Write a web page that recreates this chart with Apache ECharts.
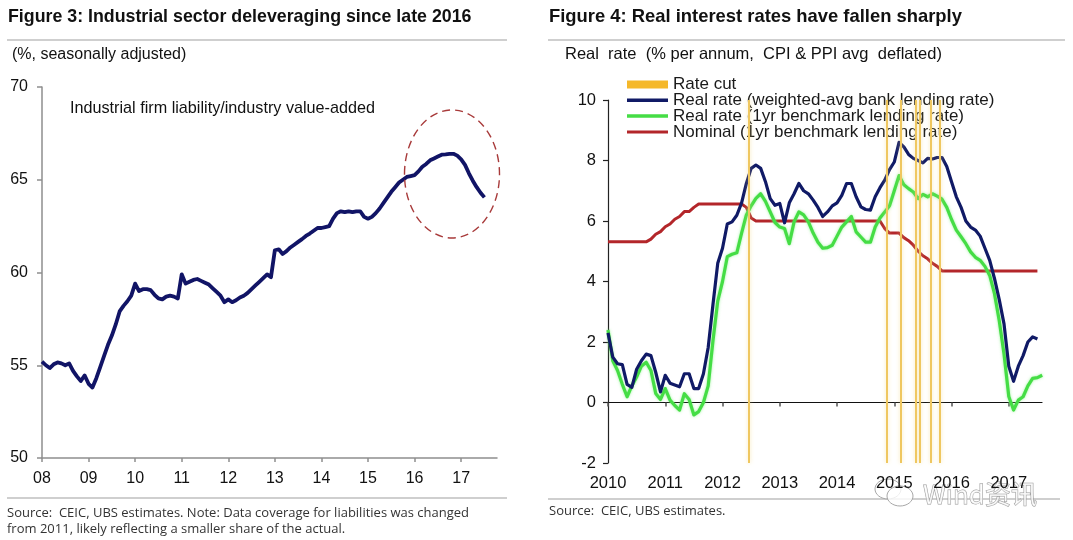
<!DOCTYPE html>
<html><head><meta charset="utf-8">
<script src="https://cdn.jsdelivr.net/npm/echarts@6/dist/echarts.min.js"></script>
<style>html,body{margin:0;padding:0;background:#fff}#c{width:1073px;height:540px}</style>
</head><body><div id="c"></div>
<script>
// ---------- Figure 3 data (monthly, Jan 2008 - Jul 2017) ----------
const leverageStartYear = 2008;
const leverageYearTicks = [2008, 2009, 2010, 2011, 2012, 2013, 2014, 2015, 2016, 2017];
const leverage = [
  55.2, 55.0, 54.85, 55.05, 55.15, 55.1, 55.0, 55.1, 54.7, 54.4, 54.15, 54.45,
  54.0, 53.8, 54.3, 54.9, 55.5, 56.1, 56.6, 57.2, 57.9, 58.2, 58.45, 58.75,
  59.4, 59.0, 59.1, 59.1, 59.05, 58.8, 58.6, 58.55, 58.7, 58.75, 58.7, 58.6,
  59.9, 59.4, 59.5, 59.6, 59.65, 59.55, 59.45, 59.35, 59.15, 58.95, 58.75, 58.4,
  58.55, 58.4, 58.5, 58.65, 58.75, 58.9, 59.1, 59.3, 59.5, 59.7, 59.9, 59.75,
  61.2, 61.25, 61.0, 61.15, 61.35, 61.5, 61.65, 61.8, 61.97, 62.1, 62.25, 62.4,
  62.4, 62.45, 62.5, 62.9, 63.2, 63.3, 63.25, 63.3, 63.25, 63.3, 63.3, 63.0,
  62.9, 63.0, 63.2, 63.45, 63.75, 64.05, 64.35, 64.6, 64.85, 65.0, 65.15, 65.2,
  65.25, 65.45, 65.7, 65.85, 66.05, 66.15, 66.25, 66.35, 66.37, 66.4, 66.4, 66.3,
  66.1, 65.8, 65.35, 64.95, 64.6, 64.3, 64.05
];

// ---------- Figure 4 data (monthly, Jan 2010 - Jul 2017) ----------
const rateStartYear = 2010;
const rateYearTicks = [2010, 2011, 2012, 2013, 2014, 2015, 2016, 2017];
const realWeighted = [
  2.3, 1.5, 1.28, 1.25, 0.6, 0.5, 1.1, 1.38, 1.6, 1.55, 1.0, 0.35,
  0.9, 0.64, 0.58, 0.52, 0.95, 0.95, 0.46, 0.46, 0.95, 1.82, 3.24, 4.6,
  5.1, 5.9, 5.97, 6.19, 6.6, 7.24, 7.74, 7.85, 7.74, 7.3, 6.74, 6.52,
  6.58, 5.94, 6.6, 6.9, 7.24, 7.0, 6.9, 6.69, 6.45, 6.15, 6.3, 6.5,
  6.6, 6.85, 7.24, 7.24, 6.8, 6.47, 6.38, 6.36, 6.8, 7.1, 7.35, 7.7,
  7.95, 8.6, 8.45, 8.2, 8.07, 8.0, 7.92, 8.07, 8.05, 8.1, 8.1, 7.8,
  7.3, 6.8, 6.45, 6.0, 5.8, 5.7, 5.5, 5.1, 4.7, 4.1, 3.4, 2.6,
  1.2, 0.7, 1.2, 1.55, 2.0, 2.17, 2.1
];
const realBenchmark = [
  2.4, 1.38, 1.06, 0.6, 0.19, 0.55, 0.84, 1.2, 1.33, 1.06, 0.3, 0.1,
  0.46, 0.08, -0.1, -0.25, 0.29, 0.1, -0.41, -0.3, 0.0, 0.55, 2.04, 3.35,
  4.0, 4.82, 4.9, 4.95, 5.6, 6.2, 6.5, 6.75, 6.9, 6.65, 6.3, 5.95,
  5.8, 5.75, 5.25, 5.97, 6.3, 6.2, 5.97, 5.6, 5.3, 5.1, 5.12, 5.2,
  5.5, 5.8, 5.97, 6.15, 5.64, 5.47, 5.3, 5.3, 5.8, 6.1, 6.3, 6.5,
  7.0, 7.5, 7.2, 7.07, 6.96, 6.74, 6.88, 6.8, 6.9, 6.82, 6.72, 6.45,
  6.05, 5.7, 5.48, 5.25, 4.98, 4.8, 4.7, 4.5, 4.2, 3.6, 2.7, 1.6,
  0.2, -0.25, 0.08, 0.19, 0.55, 0.8, 0.82, 0.9
];
const nominalRate = [
  5.31, 5.31, 5.31, 5.31, 5.31, 5.31, 5.31, 5.31, 5.31, 5.40, 5.56, 5.65,
  5.81, 5.90, 6.06, 6.15, 6.31, 6.31, 6.45, 6.56, 6.56, 6.56, 6.56, 6.56,
  6.56, 6.56, 6.56, 6.56, 6.56, 6.45, 6.1, 6.0, 6.0, 6.0, 6.0, 6.0,
  6.0, 6.0, 6.0, 6.0, 6.0, 6.0, 6.0, 6.0, 6.0, 6.0, 6.0, 6.0,
  6.0, 6.0, 6.0, 6.0, 6.0, 6.0, 6.0, 6.0, 6.0, 6.0, 5.75, 5.6,
  5.6, 5.6, 5.45, 5.35, 5.2, 5.0, 4.85, 4.75, 4.6, 4.5, 4.35, 4.35,
  4.35, 4.35, 4.35, 4.35, 4.35, 4.35, 4.35, 4.35, 4.35, 4.35, 4.35, 4.35,
  4.35, 4.35, 4.35, 4.35, 4.35, 4.35, 4.35
];
const rateCuts = [2012.46, 2014.86, 2015.12, 2015.38, 2015.45, 2015.63, 2015.80];

const seriesNames = [
  'Rate cut',
  'Real rate (weighted-avg bank lending rate)',
  'Real rate (1yr benchmark lending rate)',
  'Nominal (1yr benchmark lending rate)'
];

const toPairs = (arr, start) => arr.map((v, i) => [start + i / 12, v]);

const FONT = '"Liberation Sans", Arial, sans-serif';
const LIGHT = '"Open Sans", "Liberation Sans", sans-serif';

const chart = echarts.init(document.getElementById('c'), null, {renderer: 'canvas'});

const option = {
  backgroundColor: '#ffffff',
  animation: false,
  textStyle: {fontFamily: FONT},
  grid: [
    {left: 42, top: 87, width: 455, height: 371},
    {left: 608, top: 100, width: 434, height: 363}
  ],
  legend: {
    left: 627, top: 76, orient: 'vertical', itemWidth: 41, itemHeight: 14, itemGap: -1.2, padding: 0,
    selectedMode: false,
    textStyle: {fontFamily: FONT, fontSize: 17, lineHeight: 14, color: '#1a1a1a'},
    itemStyle: {borderWidth: 0},
    data: [
      {name: seriesNames[0], icon: 'path://M0,0H41V8H0Z'},
      {name: seriesNames[1], icon: 'path://M0,0H41V3.5H0Z'},
      {name: seriesNames[2], icon: 'path://M0,0H41V3.5H0Z'},
      {name: seriesNames[3], icon: 'path://M0,0H41V3H0Z'}
    ]
  },
  xAxis: [
    {
      gridIndex: 0, type: 'value', min: 2008, max: 2017.77,
      splitLine: {show: false},
      axisLine: {show: true, lineStyle: {color: '#8e8e8e', width: 1.5}},
      axisTick: {show: true, length: 4, customValues: leverageYearTicks, lineStyle: {color: '#8e8e8e', width: 1.5}},
      axisLabel: {customValues: leverageYearTicks, formatter: v => String(Math.round(v)).slice(2),
        fontSize: 16, color: '#111', margin: 13, fontFamily: FONT}
    },
    {
      gridIndex: 1, type: 'value', min: 2010, max: 2017.58,
      splitLine: {show: false},
      axisLine: {show: true, onZero: true, lineStyle: {color: '#111', width: 1.2}},
      axisTick: {show: true, length: 4, customValues: rateYearTicks, lineStyle: {color: '#555', width: 1.5}},
      axisLabel: {show: false}
    },
    {
      gridIndex: 1, type: 'value', min: 2010, max: 2017.58, position: 'bottom',
      splitLine: {show: false},
      axisLine: {show: false, onZero: false},
      axisTick: {show: false},
      axisLabel: {customValues: rateYearTicks, formatter: v => String(Math.round(v)),
        fontSize: 16.5, color: '#111', margin: 12, fontFamily: FONT}
    }
  ],
  yAxis: [
    {
      gridIndex: 0, type: 'value', min: 50, max: 70, interval: 5,
      splitLine: {show: false},
      axisLine: {show: true, lineStyle: {color: '#8e8e8e', width: 1.5}},
      axisTick: {show: true, length: 5, lineStyle: {color: '#8e8e8e', width: 1.5}},
      axisLabel: {fontSize: 16, color: '#111', margin: 14, fontFamily: FONT}
    },
    {
      gridIndex: 1, type: 'value', min: -2, max: 10, interval: 2,
      splitLine: {show: false},
      axisLine: {show: true, lineStyle: {color: '#222', width: 1.2}},
      axisTick: {show: true, length: 5, lineStyle: {color: '#222', width: 1.2}},
      axisLabel: {fontSize: 16.5, color: '#111', margin: 12, fontFamily: FONT}
    }
  ],
  series: [
    {
      name: 'Industrial firm liability/industry value-added',
      type: 'line', xAxisIndex: 0, yAxisIndex: 0, symbol: 'none', silent: true,
      data: toPairs(leverage, leverageStartYear),
      lineStyle: {color: '#111466', width: 3.8, join: 'round'}
    },
    {
      name: seriesNames[0], type: 'line', xAxisIndex: 1, yAxisIndex: 1, symbol: 'none',
      color: '#f5b82a', data: [], z: 1,
      markLine: {
        silent: true, symbol: 'none', label: {show: false}, animation: false,
        lineStyle: {color: '#efc760', width: 2, type: 'solid', shadowColor: 'rgba(245,215,130,0.6)', shadowBlur: 4},
        data: rateCuts.map(v => ({xAxis: v}))
      }
    },
    {
      name: seriesNames[1], type: 'line', xAxisIndex: 1, yAxisIndex: 1, symbol: 'none', z: 4,
      color: '#101a66', data: toPairs(realWeighted, rateStartYear),
      lineStyle: {color: '#101a66', width: 3.2, join: 'round'}
    },
    {
      name: seriesNames[2], type: 'line', xAxisIndex: 1, yAxisIndex: 1, symbol: 'none', z: 3,
      color: '#45dd45', data: toPairs(realBenchmark, rateStartYear),
      lineStyle: {color: '#45dd45', width: 3.2, join: 'round', shadowColor: 'rgba(120,240,120,0.7)', shadowBlur: 3}
    },
    {
      name: seriesNames[3], type: 'line', xAxisIndex: 1, yAxisIndex: 1, symbol: 'none', z: 2,
      color: '#b3262a', data: toPairs(nominalRate, rateStartYear),
      lineStyle: {color: '#b3262a', width: 3, join: 'round'}
    }
  ],
  graphic: [
    // Left panel texts
    {type: 'text', left: 8, top: 8, style: {text: 'Figure 3: Industrial sector deleveraging since late 2016',
      font: 'bold 17.8px ' + FONT, fill: '#111'}},
    {type: 'rect', shape: {x: 7, y: 39, width: 500, height: 2}, style: {fill: '#cfcfcf'}},
    {type: 'text', left: 12, top: 47, style: {text: '(%, seasonally adjusted)', font: '16px ' + FONT, fill: '#111'}},
    {type: 'text', left: 70, top: 101, style: {text: 'Industrial firm liability/industry value-added', font: '16.2px ' + FONT, fill: '#111'}},
    {type: 'ellipse', shape: {cx: 452, cy: 174, rx: 47.5, ry: 64}, z: 10,
      style: {fill: 'none', stroke: '#a83a3a', lineWidth: 1.4, lineDash: [8, 5]}},
    {type: 'rect', shape: {x: 7, y: 497, width: 500, height: 2}, style: {fill: '#cfcfcf'}},
    {type: 'text', left: 7, top: 505, style: {text: 'Source:  CEIC, UBS estimates. Note: Data coverage for liabilities was changed\nfrom 2011, likely reflecting a smaller share of the actual.',
      font: '13px ' + LIGHT, fill: '#333', lineHeight: 16}},
    // Right panel texts
    {type: 'text', left: 549, top: 8, style: {text: 'Figure 4: Real interest rates have fallen sharply',
      font: 'bold 18.4px ' + FONT, fill: '#111'}},
    {type: 'rect', shape: {x: 548, y: 39, width: 517, height: 2}, style: {fill: '#cfcfcf'}},
    {type: 'text', left: 565, top: 46, style: {text: 'Real  rate  (% per annum,  CPI & PPI avg  deflated)', font: '16.5px ' + FONT, fill: '#111'}},
    {type: 'rect', shape: {x: 548, y: 498, width: 512, height: 2}, style: {fill: '#cfcfcf'}},
    {type: 'text', left: 549, top: 505, style: {text: 'Source:  CEIC, UBS estimates.', font: '13px ' + LIGHT, fill: '#333'}},
    // Watermark
    {type: 'group', z: 100, children: [
      {type: 'ellipse', shape: {cx: 888, cy: 489, rx: 13, ry: 10}, style: {fill: 'rgba(255,255,255,0.7)', stroke: '#a8a8a8', lineWidth: 1}},
      {type: 'ellipse', shape: {cx: 900, cy: 496, rx: 13, ry: 10}, style: {fill: 'rgba(255,255,255,0.8)', stroke: '#a8a8a8', lineWidth: 1}},
      {type: 'text', x: 923, y: 481, style: {text: 'Wind资讯', font: '26px "Noto Sans CJK SC", sans-serif',
        fill: 'rgba(255,255,255,0.75)', stroke: '#9a9a9a', lineWidth: 1}}
    ]}
  ]
};

chart.setOption(option);
</script>
</body></html>
